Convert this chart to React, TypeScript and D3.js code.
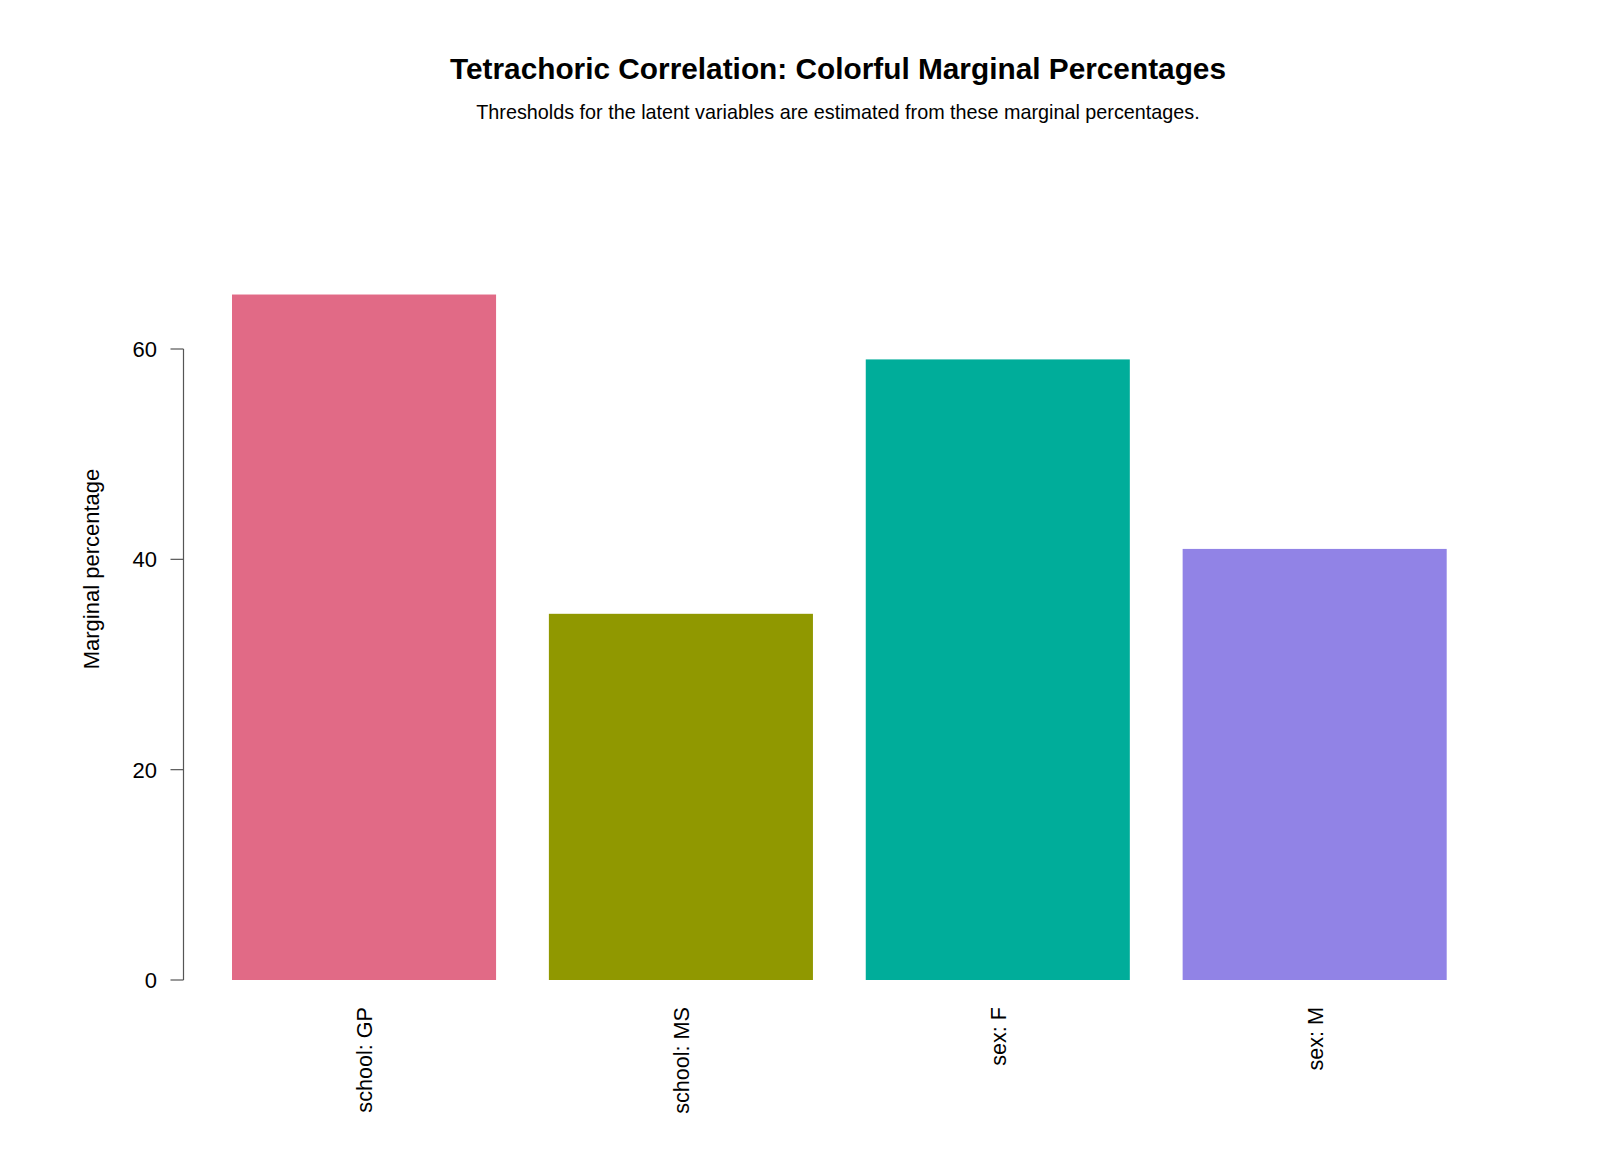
import React from "react";
import * as d3 from "d3";

const categories = ["school: GP", "school: MS", "sex: F", "sex: M"];
const values = [65.18, 34.82, 59.01, 40.99];
const colors = ["#E16A86", "#909800", "#00AD9A", "#9183E6"];
const yTicks = [0, 20, 40, 60];

const W = 1600;
const H = 1164;

export default function App() {
  const x = d3
    .scaleBand<string>()
    .domain(categories)
    .range([232, 1446.7])
    .paddingInner(1 / 6)
    .paddingOuter(0);
  const y = d3.scaleLinear().domain([0, 60]).range([980, 349]);
  const axisX = 183.5;
  const font = "Liberation Sans, Arial, sans-serif";

  return (
    <svg
      width={W}
      height={H}
      style={{ position: "absolute", left: 0, top: 0, background: "#fff" }}
      fontFamily={font}
    >
      <text x={838} y={79} textAnchor="middle" fontWeight="bold" fontSize={29.8}>
        Tetrachoric Correlation: Colorful Marginal Percentages
      </text>
      <text x={838} y={119} textAnchor="middle" fontSize={19.8}>
        Thresholds for the latent variables are estimated from these marginal percentages.
      </text>
      {categories.map((c, i) => (
        <rect
          key={c}
          x={x(c)}
          y={y(values[i])}
          width={x.bandwidth()}
          height={y(0) - y(values[i])}
          fill={colors[i]}
        />
      ))}
      <line x1={axisX} x2={axisX} y1={y(0)} y2={y(60)} stroke="#555" strokeWidth={1.2} />
      {yTicks.map((t) => (
        <g key={t}>
          <line x1={axisX - 13} x2={axisX} y1={y(t)} y2={y(t)} stroke="#555" strokeWidth={1.2} />
          <text x={157} y={y(t)} dy="0.36em" textAnchor="end" fontSize={22}>
            {t}
          </text>
        </g>
      ))}
      <text
        transform={`translate(99,569) rotate(-90)`}
        textAnchor="middle"
        fontSize={22}
      >
        Marginal percentage
      </text>
      {categories.map((c) => {
        const cx = (x(c) as number) + x.bandwidth() / 2;
        return (
          <text
            key={c}
            transform={`translate(${cx + 8},1007) rotate(-90)`}
            textAnchor="end"
            fontSize={21.6}
          >
            {c}
          </text>
        );
      })}
    </svg>
  );
}
